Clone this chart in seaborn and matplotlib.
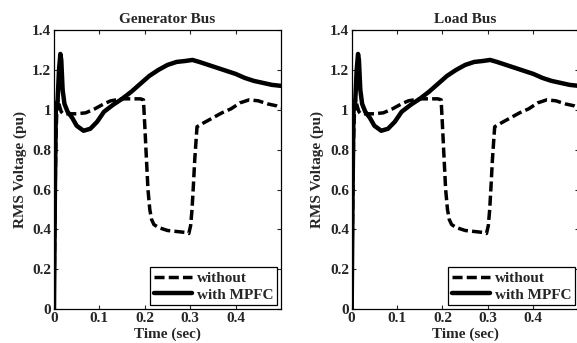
import numpy as np
import pandas as pd
import seaborn as sns
import matplotlib
matplotlib.use("Agg")
import matplotlib.pyplot as plt
from matplotlib.lines import Line2D

# ---- data ----
t_without = [0, 0.002, 0.004, 0.006, 0.009, 0.012, 0.016, 0.02, 0.03, 0.05, 0.07,
             0.09, 0.11, 0.125, 0.15, 0.17, 0.19, 0.197, 0.200, 0.203, 0.207, 0.211,
             0.215, 0.22, 0.23, 0.25, 0.27, 0.29, 0.297, 0.301, 0.304, 0.307, 0.310,
             0.315, 0.33, 0.35, 0.37, 0.39, 0.41, 0.43, 0.45, 0.47, 0.49, 0.50]
v_without = [0, 0.5, 0.85, 0.98, 1.05, 1.02, 0.99, 0.98, 0.98, 0.98, 0.985,
             1.005, 1.03, 1.045, 1.055, 1.055, 1.055, 1.05, 0.92, 0.78, 0.6, 0.5,
             0.45, 0.425, 0.41, 0.395, 0.39, 0.385, 0.38, 0.42, 0.5, 0.62, 0.75,
             0.915, 0.935, 0.96, 0.985, 1.005, 1.035, 1.05, 1.045, 1.03, 1.02, 1.01]

t_mpfc = [0, 0.002, 0.004, 0.008, 0.011, 0.014, 0.016, 0.019, 0.023, 0.03, 0.04,
          0.05, 0.065, 0.08, 0.095, 0.11, 0.13, 0.15, 0.17, 0.19, 0.21, 0.23, 0.25,
          0.27, 0.29, 0.305, 0.32, 0.34, 0.36, 0.38, 0.40, 0.42, 0.44, 0.46, 0.48, 0.50]
v_mpfc = [0, 0.6, 1.0, 1.05, 1.2, 1.28, 1.25, 1.1, 1.03, 0.99, 0.96,
          0.92, 0.895, 0.905, 0.94, 0.99, 1.025, 1.055, 1.09, 1.13, 1.17, 1.2, 1.225,
          1.24, 1.245, 1.25, 1.24, 1.225, 1.21, 1.195, 1.18, 1.16, 1.145, 1.135, 1.125, 1.12]

panels = ["Generator Bus", "Load Bus"]
series_names = ["without", "with MPFC"]
x_ticks = [0, 0.1, 0.2, 0.3, 0.4]
x_labels = ["0", "0.1", "0.2", "0.3", "0.4"]
y_ticks = [0, 0.2, 0.4, 0.6, 0.8, 1.0, 1.2, 1.4]
y_labels = ["0", "0.2", "0.4", "0.6", "0.8", "1", "1.2", "1.4"]

rows = []
for p in panels:
    for t, v in zip(t_without, v_without):
        rows.append((p, series_names[0], t, v))
    for t, v in zip(t_mpfc, v_mpfc):
        rows.append((p, series_names[1], t, v))
df = pd.DataFrame(rows, columns=["panel", "series", "time", "voltage"])

sns.set_style("ticks")
plt.rcParams["font.family"] = ["Liberation Serif", "DejaVu Serif"]
plt.rcParams["font.weight"] = "bold"

fig = plt.figure(figsize=(5.77, 3.43), dpi=100)
positions = [[0.0936, 0.0983, 0.3934, 0.8142], [0.6095, 0.0983, 0.3934, 0.8142]]

fs = 11
lw_dash = 2.5
lw_solid = 3.2
dash_pat = [2.9, 1.2]
for pos, p in zip(positions, panels):
    ax = fig.add_axes(pos)
    sub = df[df["panel"] == p]
    sns.lineplot(data=sub[sub["series"] == "with MPFC"], x="time", y="voltage",
                 ax=ax, color="black", lw=lw_solid, estimator=None, sort=False)
    sns.lineplot(data=sub[sub["series"] == "without"], x="time", y="voltage",
                 ax=ax, color="black", lw=lw_dash, estimator=None, sort=False)
    ax.lines[-1].set_dashes(dash_pat)
    ax.set_xlim(0, 0.5)
    ax.set_ylim(0, 1.4)
    ax.set_xticks(x_ticks)
    ax.set_xticklabels(x_labels, fontsize=fs, fontweight="bold")
    ax.set_yticks(y_ticks)
    ax.set_yticklabels(y_labels, fontsize=fs, fontweight="bold")
    ax.tick_params(direction="in", top=True, right=True, length=3, width=0.8, pad=2)
    for s in ax.spines.values():
        s.set_visible(True)
        s.set_linewidth(0.9)
        s.set_color("black")
    ax.set_xlabel("Time (sec)", fontsize=fs, fontweight="bold", labelpad=2)
    ax.set_ylabel("RMS Voltage (pu)", fontsize=fs, fontweight="bold", labelpad=4)
    ax.set_title(p, fontsize=fs, fontweight="bold", pad=5)
    handles = [Line2D([], [], color="black", lw=lw_dash, dashes=dash_pat),
               Line2D([], [], color="black", lw=lw_solid)]
    leg = ax.legend(handles, series_names, loc="lower right", fancybox=False,
                    edgecolor="black", framealpha=1, borderaxespad=0.25,
                    handlelength=2.5, handletextpad=0.3, borderpad=0.25,
                    labelspacing=0.2, prop={"size": fs, "weight": "bold"})
    leg.get_frame().set_linewidth(0.9)

fig.savefig("out.png", dpi=100)
